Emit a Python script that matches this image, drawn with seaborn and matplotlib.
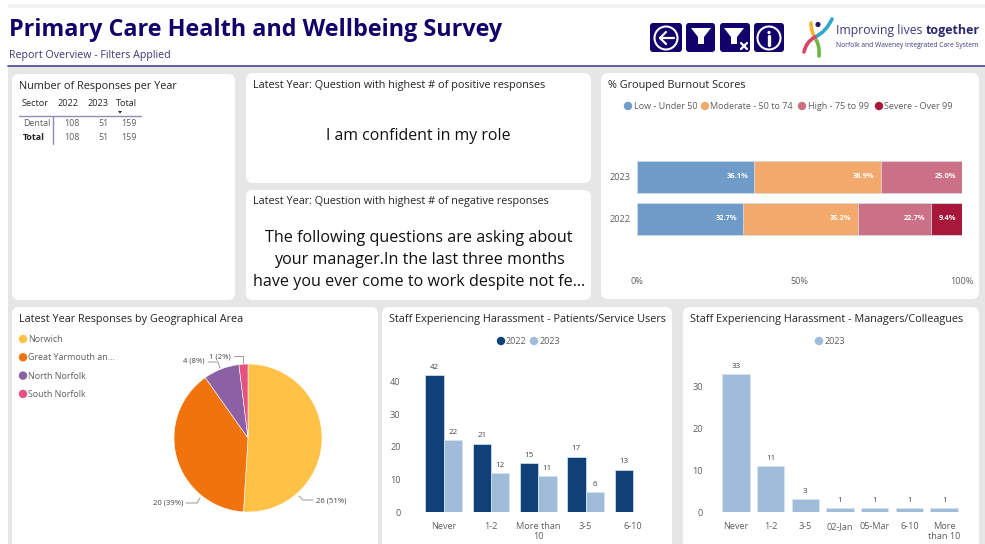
import pandas as pd
import numpy as np

import matplotlib
matplotlib.use("Agg")
import matplotlib.pyplot as plt
from matplotlib.patches import FancyBboxPatch, Rectangle, Circle, Polygon, PathPatch
from matplotlib.path import Path
import seaborn as sns

W, H = 985, 544

# burnout scores
burnout_years = ["2023", "2022"]
burnout_low = [36.1, 32.7]
burnout_moderate = [38.9, 35.2]
burnout_high = [25.0, 22.7]
burnout_severe = [0.0, 9.4]
burnout_names = ["Low - Under 50", "Moderate - 50 to 74", "High - 75 to 99", "Severe - Over 99"]

# geographical area
area_names = ["Norwich", "Great Yarmouth an...", "North Norfolk", "South Norfolk"]
area_counts = [26, 20, 4, 1]

# harassment - patients/service users
patient_cats = ["Never", "1-2", "More than\n10", "3-5", "6-10"]
patient_2022 = [42, 21, 15, 17, 13]
patient_2023 = [22, 12, 11, 6, np.nan]

# harassment - managers/colleagues
manager_cats = ["Never", "1-2", "3-5", "02-Jan", "05-Mar", "6-10", "More\nthan 10"]
manager_2023 = [33, 11, 3, 1, 1, 1, 1]

# responses table
table_cols = ["Sector", "2022", "2023", "Total"]
table_dental = ["Dental", "108", "51", "159"]
table_total = ["Total", "108", "51", "159"]

NAVY = "#12006b"
DARK = "#252423"
GREY = "#605e5c"
BLUE_DARK = "#0f4077"
BLUE_LIGHT = "#a0bcdb"
EDGE = "#dbe5f1"
BURNOUT_COLORS = ["#6f9bc8", "#f4a96c", "#cc7185", "#a8183a"]
AREA_COLORS = ["#ffc247", "#f1730d", "#8b60a4", "#e5527f"]
TITLE_SIZE = 7.82

sns.set_theme(style="white")
plt.rcParams["font.family"] = ["Open Sans", "DejaVu Sans"]

fig = plt.figure(figsize=(W / 100, H / 100), dpi=100, facecolor="white")

# page layer, works in pixels from the top left
page = fig.add_axes([0, 0, 1, 1])
page.set_xlim(0, W)
page.set_ylim(H, 0)
page.axis("off")


def px_axes(x0, y0, x1, y1):
    ax = fig.add_axes([x0 / W, 1 - y1 / H, (x1 - x0) / W, (y1 - y0) / H])
    ax.patch.set_alpha(0)
    return ax


def panel(x0, y0, x1, y1):
    page.add_patch(FancyBboxPatch((x0 + 7, y0 + 7), x1 - x0 - 14, y1 - y0 - 14,
                                  boxstyle="round,pad=7,rounding_size=7", fc="white", ec="none"))


def label(x, y, s, size=6.5, color=GREY, ha="left", **kw):
    # va center sits a bit high because of the descender box
    page.text(x, y + 1.5, s, fontsize=size, color=color, ha=ha, va="center", **kw)


def dot(x, y, color, r=4.2):
    page.add_patch(Circle((x, y), r, fc=color, ec="none"))


def clean(ax):
    sns.despine(ax=ax, left=True, bottom=True)
    ax.set_xlabel("")
    ax.set_ylabel("")
    ax.tick_params(length=0, labelsize=6.6, labelcolor=GREY)


# background
page.add_patch(Rectangle((8, 65), W - 8, H - 65, fc="#e6e6e6", ec="none"))
page.add_patch(Rectangle((8, 4), W - 8, 4, fc="#f2f2f2", ec="none"))
page.plot([8, W], [65.5, 65.5], color="#4a4690", lw=1.2)

panel(12, 74, 235, 300)
panel(246, 73, 591, 183)
panel(246, 190, 591, 300)
panel(601, 73, 979, 299)
panel(12, 307, 378, 560)
panel(382, 307, 672, 560)
panel(683, 307, 979, 560)

# header
label(9, 29, "Primary Care Health and Wellbeing Survey", size=16.8, color=NAVY, fontweight="bold")
label(9, 54, "Report Overview - Filters Applied", size=7.7, color="#3d3a78")

# nav buttons
for x0, x1 in [(650, 682), (686, 715), (720, 750), (754, 784)]:
    page.add_patch(FancyBboxPatch((x0 + 3, 26), x1 - x0 - 6, 23,
                                  boxstyle="round,pad=3,rounding_size=3", fc=NAVY, ec="none"))
page.add_patch(Circle((666, 38), 11.5, fc="none", ec="white", lw=1.5))
page.plot([660, 674], [38, 38], color="white", lw=1.6)
page.plot([666, 660, 666], [32, 38, 44], color="white", lw=1.6)
for cx in [701, 734]:
    page.add_patch(Polygon([(cx - 10, 28), (cx + 10, 28), (cx + 3, 37), (cx + 3, 44),
                            (cx - 3, 44), (cx - 3, 37)], fc="white", ec="none"))
page.plot([741, 747], [43, 49], color="white", lw=1.6)
page.plot([741, 747], [49, 43], color="white", lw=1.6)
page.add_patch(Circle((769, 38), 11.5, fc="none", ec="white", lw=1.5))
dot(769, 32.5, "white", r=1.6)
page.plot([769, 769], [36, 45], color="white", lw=2.4)

# logo ribbons
for pts, color in [
    ([(815, 38), (820, 45), (819, 56)], "#6fb544"),
    ([(811, 23), (811, 31), (815, 38)], "#f2b632"),
    ([(832, 19), (826, 32), (815, 37)], "#2fa8cf"),
    ([(815, 37), (806, 42), (804, 52)], "#d9446a"),
]:
    page.add_patch(PathPatch(Path(pts, [Path.MOVETO, Path.CURVE3, Path.CURVE3]),
                             fc="none", ec=color, lw=2.6, capstyle="round"))
dot(818, 24.5, "#1d1a6b", r=2.6)
label(836, 29, "Improving lives", size=8.8, color="#3c3a80")
label(926, 29, "together", size=9, color="#2a2870", fontweight="bold")
label(836, 44, "Norfolk and Waveney Integrated Care System", size=4.9, color="#3c3a80")

# panel titles
label(19, 85, "Number of Responses per Year", size=TITLE_SIZE, color=DARK)
label(253, 84, "Latest Year: Question with highest # of positive responses", size=TITLE_SIZE, color=DARK)
label(253, 200, "Latest Year: Question with highest # of negative responses", size=TITLE_SIZE, color=DARK)
label(608, 84, "% Grouped Burnout Scores", size=TITLE_SIZE, color=DARK)
label(19, 318, "Latest Year Responses by Geographical Area", size=TITLE_SIZE, color=DARK)
label(389, 318, "Staff Experiencing Harassment - Patients/Service Users", size=TITLE_SIZE, color=DARK)
label(690, 318, "Staff Experiencing Harassment - Managers/Colleagues", size=TITLE_SIZE, color=DARK)

# big text cards
label(418, 135, "I am confident in my role", size=11.4, color="#111111", ha="center")
label(419, 237, "The following questions are asking about", size=11.6, color="#111111", ha="center")
label(419, 259, "your manager.In the last three months", size=11.6, color="#111111", ha="center")
label(419, 281, "have you ever come to work despite not fe...", size=11.6, color="#111111", ha="center")

# table
head_x = [22, 79, 108, 137]
val_x = [23, 80, 109, 137]
col_ha = ["left", "right", "right", "right"]
for x, ha, s in zip(head_x, col_ha, table_cols):
    label(x, 102, s, size=6.6, color=DARK, ha=ha)
for x, ha, s in zip(val_x, col_ha, table_dental):
    label(x, 122, s, size=6.4, color=GREY, ha=ha)
for i, (x, ha, s) in enumerate(zip(val_x, col_ha, table_total)):
    label(x, 136, s, size=6.4, color=DARK if i == 0 else GREY, ha=ha, fontweight="bold" if i == 0 else "normal")
page.plot([19, 141], [116, 116], color="#8f8cb8", lw=1)
page.plot([53, 53], [116, 144], color="#8f8cb8", lw=1)
page.add_patch(Polygon([(118, 111), (122, 111), (120, 113.5)], fc=DARK, ec="none"))

# burnout stacked bars
burnout = pd.DataFrame({"Low": burnout_low, "Moderate": burnout_moderate,
                        "High": burnout_high, "Severe": burnout_severe}, index=burnout_years)
cum = burnout.cumsum(axis=1)
ax = px_axes(637, 130, 962, 275)
for col, color in reversed(list(zip(burnout.columns, BURNOUT_COLORS))):
    sns.barplot(x=cum[col].values, y=burnout_years, order=burnout_years, color=color,
                saturation=1, width=0.76, edgecolor=EDGE, linewidth=0.5, ax=ax)
for col in burnout.columns:
    for i, yr in enumerate(burnout_years):
        if burnout.loc[yr, col] > 0:
            ax.annotate(f"{burnout.loc[yr, col]:.1f}%", (cum.loc[yr, col], i), xytext=(-4.3, 0),
                        textcoords="offset points", ha="right", va="center", fontsize=5.4,
                        color="white", fontweight="bold")
ax.set_xlim(0, 100)
ax.set_ylim((275 - 177) / 42, (130 - 177) / 42)
ax.set_xticks([0, 50, 100], ["0%", "50%", "100%"])
clean(ax)
ax.tick_params(axis="x", pad=1.5)
ax.tick_params(axis="y", pad=5)

for x, s, c in zip([628, 705, 802, 879], burnout_names, BURNOUT_COLORS):
    dot(x, 106, c)
    label(x + 5.5, 105, s, size=6.5)

# pie
for i, (s, c) in enumerate(zip(area_names, AREA_COLORS)):
    dot(23, 339 + i * 18.3, c)
    label(28.5, 338 + i * 18.3, s, size=6.4)
ax = px_axes(174, 364, 322, 512)
ax.pie(area_counts, colors=AREA_COLORS, startangle=90, counterclock=False, radius=1,
       wedgeprops=dict(edgecolor="white", linewidth=0.4))
ax.set_xlim(-1, 1)
ax.set_ylim(-1, 1)

total = sum(area_counts)
pie_labels = [f"{n} ({n / total:.0%})" for n in area_counts]
for s, lead, tx, ha in zip(pie_labels,
                           [[(299, 496), (303, 500), (313, 500)], [(200, 498), (197, 503), (186, 503)],
                            [(220, 368), (218, 362), (208, 362)], [(243, 363), (243, 356), (234, 356)]],
                           [(316, 499), (183, 502), (205, 360), (231, 355)],
                           ["left", "right", "right", "right"]):
    page.plot(*zip(*lead), color="#9a9a9a", lw=0.7)
    label(tx[0], tx[1], s, size=5.5, color="#444444", ha=ha)

# harassment - patients
patients = pd.DataFrame({"cat": patient_cats * 2,
                         "year": ["2022"] * 5 + ["2023"] * 5,
                         "n": patient_2022 + patient_2023}).dropna()
ax = px_axes(420, 512 - 46 * 3.26, 656.5, 512)
sns.barplot(data=patients, x="cat", y="n", hue="year", order=patient_cats, hue_order=["2022", "2023"],
            palette=[BLUE_DARK, BLUE_LIGHT], saturation=1, width=0.775, legend=False,
            edgecolor=EDGE, linewidth=0.5, ax=ax)
for c in ax.containers:
    ax.bar_label(c, fmt="%d", fontsize=5.8, color="#444444", padding=3)
ax.set_ylim(0, 46)
ax.set_yticks([0, 10, 20, 30, 40])
clean(ax)
ax.tick_params(axis="x", pad=7)
ax.tick_params(axis="y", pad=14)
dot(501, 341, BLUE_DARK)
label(506, 340, "2022", size=6.5)
dot(534, 341, BLUE_LIGHT)
label(539.5, 340, "2023", size=6.5)

# harassment - managers
managers = pd.DataFrame({"cat": manager_cats, "n": manager_2023})
ax = px_axes(718.65, 512 - 36 * 4.19, 961.5, 512)
sns.barplot(data=managers, x="cat", y="n", order=manager_cats, color=BLUE_LIGHT,
            saturation=1, width=0.79, edgecolor=EDGE, linewidth=0.5, ax=ax)
ax.bar_label(ax.containers[0], fmt="%d", fontsize=5.8, color="#444444", padding=3)
ax.set_ylim(0, 36)
ax.set_yticks([0, 10, 20, 30])
clean(ax)
ax.tick_params(axis="x", pad=7)
ax.tick_params(axis="y", pad=11.5)
dot(819, 341, BLUE_LIGHT)
label(824.5, 340, "2023", size=6.5)

fig.savefig("out.png", dpi=100)
